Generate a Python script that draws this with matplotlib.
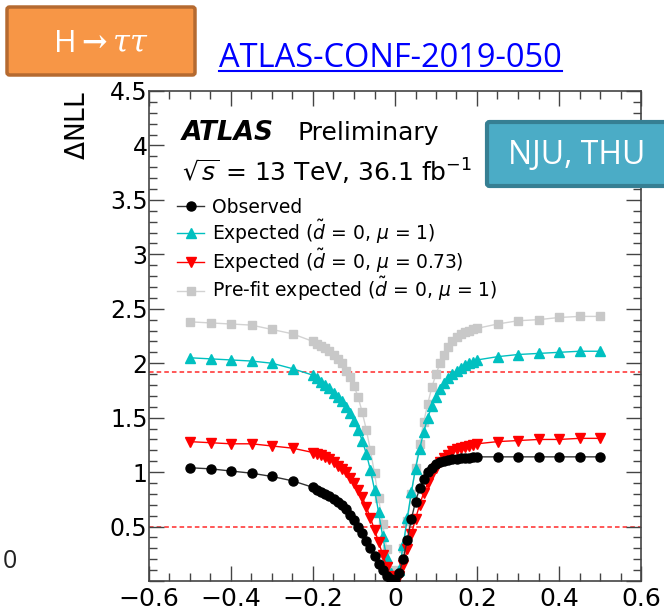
import matplotlib
matplotlib.use('agg')
import matplotlib.pyplot as plt
from matplotlib.patches import FancyBboxPatch
from matplotlib.lines import Line2D
from matplotlib.ticker import MultipleLocator, FuncFormatter

# scan points of d-tilde
dtilde = [-0.5, -0.45, -0.4, -0.35, -0.3, -0.25,
          -0.2, -0.19, -0.18, -0.17, -0.16, -0.15, -0.14, -0.13, -0.12, -0.11,
          -0.1, -0.09, -0.08, -0.07, -0.06, -0.05, -0.04, -0.03, -0.02, -0.01,
          0.0, 0.01, 0.02, 0.03, 0.04, 0.05, 0.06, 0.07, 0.08, 0.09,
          0.1, 0.11, 0.12, 0.13, 0.14, 0.15, 0.16, 0.17, 0.18, 0.19, 0.2,
          0.25, 0.3, 0.35, 0.4, 0.45, 0.5]

nll_obs = [1.04, 1.03, 1.01, 0.99, 0.96, 0.92,
           0.86, 0.84, 0.82, 0.80, 0.78, 0.75, 0.73, 0.70, 0.66, 0.61,
           0.56, 0.50, 0.44, 0.37, 0.30, 0.23, 0.16, 0.10, 0.05, 0.02,
           0.01, 0.07, 0.20, 0.38, 0.57, 0.73, 0.85, 0.94, 1.00, 1.04,
           1.07, 1.09, 1.10, 1.11, 1.12, 1.12, 1.13, 1.13, 1.13, 1.14, 1.14,
           1.14, 1.14, 1.14, 1.14, 1.14, 1.14]

nll_exp_mu1 = [2.05, 2.04, 2.03, 2.02, 2.00, 1.95,
               1.89, 1.86, 1.83, 1.80, 1.77, 1.73, 1.69, 1.65, 1.60, 1.54,
               1.47, 1.39, 1.29, 1.17, 1.02, 0.84, 0.63, 0.41, 0.21, 0.07,
               0.00, 0.10, 0.33, 0.58, 0.82, 1.03, 1.21, 1.37, 1.50, 1.61,
               1.69, 1.76, 1.82, 1.86, 1.90, 1.93, 1.96, 1.98, 2.00, 2.01, 2.03,
               2.06, 2.08, 2.09, 2.10, 2.11, 2.11]

nll_exp_mu073 = [1.28, 1.27, 1.26, 1.26, 1.24, 1.22,
                 1.18, 1.17, 1.16, 1.14, 1.12, 1.09, 1.06, 1.03, 1.00, 0.95,
                 0.90, 0.84, 0.77, 0.68, 0.58, 0.47, 0.36, 0.24, 0.13, 0.05,
                 0.01, 0.05, 0.15, 0.29, 0.43, 0.57, 0.70, 0.81, 0.90, 0.98,
                 1.04, 1.09, 1.13, 1.16, 1.19, 1.21, 1.22, 1.23, 1.24, 1.25, 1.26,
                 1.28, 1.29, 1.30, 1.30, 1.31, 1.31]

nll_prefit = [2.38, 2.37, 2.36, 2.35, 2.31, 2.27,
              2.20, 2.18, 2.16, 2.14, 2.11, 2.08, 2.04, 2.00, 1.93, 1.87,
              1.79, 1.69, 1.55, 1.39, 1.20, 0.99, 0.76, 0.52, 0.29, 0.10,
              0.01, 0.10, 0.30, 0.55, 0.80, 1.04, 1.26, 1.46, 1.63, 1.78,
              1.90, 2.00, 2.08, 2.15, 2.20, 2.24, 2.27, 2.29, 2.30, 2.31, 2.32,
              2.36, 2.39, 2.40, 2.42, 2.43, 2.43]

cl_levels = [0.5, 1.92]

W, H = 664, 612
fig = plt.figure(figsize=(W / 100, H / 100), dpi=100)
ax = fig.add_axes([149 / W, 1 - 581 / H, 492 / W, 490 / H])


def fx(px):
    return px / W


def fy(py):
    return 1 - py / H


for lvl in cl_levels:
    ax.axhline(lvl, color='#ff2a2a', lw=1.1, ls=(0, (3, 2)), zorder=1)

ax.plot(dtilde, nll_prefit, color='#d2d2d2', lw=1, marker='s', ms=6,
        mfc='#c8c8c8', mec='#c8c8c8', zorder=2,
        label=r'Pre-fit expected ($\tilde{d}$ = 0, $\mu$ = 1)')
ax.plot(dtilde, nll_exp_mu1, color='#00c0c0', lw=1, marker='^', ms=7,
        zorder=3, label=r'Expected ($\tilde{d}$ = 0, $\mu$ = 1)')
ax.plot(dtilde, nll_exp_mu073, color='#ff0000', lw=1, marker='v', ms=7,
        zorder=4, label=r'Expected ($\tilde{d}$ = 0, $\mu$ = 0.73)')
ax.plot(dtilde, nll_obs, color='#333333', lw=1, marker='o', ms=6.5,
        mfc='black', mec='black', zorder=5, label='Observed')

ax.set_xlim(-0.6, 0.6)
ax.set_ylim(0, 4.5)
ax.xaxis.set_major_locator(MultipleLocator(0.2))
ax.xaxis.set_minor_locator(MultipleLocator(0.05))
ax.yaxis.set_major_locator(MultipleLocator(0.5))
ax.yaxis.set_minor_locator(MultipleLocator(0.1))


def fmt_x(v, pos):
    if abs(v) < 1e-9:
        return '0'
    return f'{v:g}'.replace('-', '\u2212')


def fmt_y(v, pos):
    if abs(v) < 1e-9:
        return ''
    return f'{v:g}'


ax.xaxis.set_major_formatter(FuncFormatter(fmt_x))
ax.yaxis.set_major_formatter(FuncFormatter(fmt_y))
ax.tick_params(which='both', direction='in', top=True, right=True,
               color='#444444', width=1)
ax.tick_params(which='major', length=11)
ax.tick_params(which='minor', length=5.5)
ax.tick_params(axis='y', labelsize=17, pad=1)
ax.tick_params(axis='x', labelsize=18, pad=4)
for s in ax.spines.values():
    s.set_color('#444444')
    s.set_linewidth(1.2)

ax.set_ylabel(r'$\Delta$NLL', fontsize=19, loc='top')
ax.yaxis.set_label_coords(-0.118, 1.0)

handles, labels = ax.get_legend_handles_labels()
order = [3, 1, 2, 0]
ax.legend([handles[i] for i in order], [labels[i] for i in order],
          loc='upper left', bbox_to_anchor=((177 - 149) / 492, (581 - 198) / 490),
          frameon=False, fontsize=13.5, handlelength=1.45, handletextpad=0.4,
          labelspacing=0.04, borderpad=0, borderaxespad=0)

fig.text(fx(182), fy(140), 'ATLAS', fontsize=19, fontweight='bold',
         fontstyle='italic', va='baseline')
fig.text(fx(297), fy(140), 'Preliminary', fontsize=18, va='baseline')
fig.text(fx(182), fy(182), r'$\sqrt{s}$ = 13 TeV, 36.1 fb$^{-1}$', fontsize=18,
         va='baseline')

# badges and link text
orange = FancyBboxPatch((fx(7), fy(75)), fx(188), 68 / H, transform=fig.transFigure,
                        boxstyle='round,pad=0,rounding_size=0.004',
                        fc='#f79646', ec='#b56a30', lw=2.5)
fig.patches.append(orange)
fig.text(fx(101), fy(44), r'H$\mathbf{\rightarrow}\tau\tau$', color='white',
         fontsize=22, ha='center', va='center', family='Open Sans',
         math_fontfamily='dejavuserif')

teal = FancyBboxPatch((fx(487), fy(186)), fx(190), 64 / H, transform=fig.transFigure,
                      boxstyle='round,pad=0,rounding_size=0.004',
                      fc='#4bacc6', ec='#367f93', lw=3)
fig.patches.append(teal)
fig.text(fx(577), fy(155), 'NJU, THU', color='white', fontsize=23,
         ha='center', va='center', family='Open Sans')

fig.text(fx(219), fy(67), 'ATLAS-CONF-2019-050', color='#0000ff', fontsize=23.5,
         va='baseline', family='Open Sans')
fig.lines.append(Line2D([fx(219), fx(562)], [fy(71), fy(71)],
                        transform=fig.transFigure, color='#0000ff', lw=1.5))

fig.text(fx(3), fy(562), '0', fontsize=18, va='center', color='#222222',
         family='Open Sans')

fig.savefig('out.png', dpi=100)
